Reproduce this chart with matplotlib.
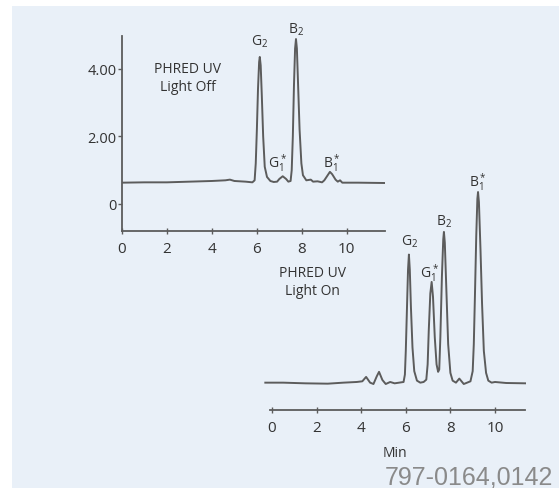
import matplotlib
matplotlib.use('Agg')
import matplotlib.pyplot as plt
from matplotlib.patches import Rectangle

off_t = [0, 1, 2, 3, 4, 4.6, 4.8, 5.0, 5.5, 5.8, 5.9, 5.95, 6.0, 6.05, 6.1, 6.13, 6.17, 6.22, 6.28,
         6.35, 6.45, 6.6, 6.75, 6.9, 7.0, 7.15, 7.3, 7.4, 7.5, 7.55, 7.6, 7.65, 7.7, 7.74, 7.78,
         7.83, 7.9, 7.98, 8.05, 8.2, 8.4, 8.5, 8.7, 8.9, 9.0, 9.15, 9.25, 9.35, 9.5, 9.6, 9.7,
         9.8, 10.5, 11.7]
off_y = [0.63, 0.64, 0.64, 0.66, 0.68, 0.70, 0.72, 0.68, 0.66, 0.64, 0.70, 1.2, 2.2, 3.4, 4.2, 4.35,
         4.1, 3.2, 2.0, 1.1, 0.8, 0.68, 0.65, 0.66, 0.74, 0.82, 0.74, 0.66, 0.68, 1.0, 2.0, 3.5, 4.6,
         4.88, 4.6, 3.6, 2.2, 1.2, 0.85, 0.70, 0.72, 0.66, 0.67, 0.64, 0.70, 0.85, 0.95, 0.88, 0.72,
         0.66, 0.70, 0.63, 0.63, 0.62]

on_t = [-0.3, 0.5, 1.5, 2.5, 3.2, 3.8, 4.05, 4.22, 4.4, 4.55, 4.7, 4.8, 4.95, 5.1, 5.3, 5.5, 5.7,
        5.9, 5.96, 6.0, 6.05, 6.1, 6.14, 6.18, 6.23, 6.3, 6.38, 6.5, 6.65, 6.8, 6.92, 6.98, 7.03,
        7.1, 7.16, 7.22, 7.3, 7.38, 7.45, 7.5, 7.55, 7.62, 7.68, 7.71, 7.75, 7.82, 7.9, 8.0, 8.1,
        8.25, 8.4, 8.5, 8.6, 8.75, 8.9, 9.0, 9.05, 9.1, 9.16, 9.21, 9.24, 9.28, 9.35, 9.42, 9.5,
        9.6, 9.7, 9.85, 10.0, 10.5, 11.4]
on_y = [0.66, 0.66, 0.64, 0.63, 0.66, 0.68, 0.70, 0.83, 0.66, 0.62, 0.85, 0.98, 0.74, 0.62, 0.68,
        0.64, 0.66, 0.68, 0.9, 1.6, 2.8, 4.0, 4.45, 4.0, 2.9, 1.7, 1.0, 0.72, 0.66, 0.68, 0.75, 1.2,
        2.2, 3.3, 3.64, 3.2, 2.0, 1.2, 0.98, 1.05, 2.0, 3.8, 4.9, 5.12, 4.8, 3.4, 1.8, 0.95, 0.72,
        0.66, 0.78, 0.70, 0.62, 0.66, 0.70, 1.0, 1.8, 3.2, 5.0, 6.1, 6.3, 6.0, 4.6, 3.0, 1.6, 0.95,
        0.72, 0.66, 0.68, 0.65, 0.64]

off_peaks = ['G$_2$', 'B$_2$', 'G$_1^*$', 'B$_1^*$']
off_peak_pos = [(6.13, 4.82), (7.74, 5.18), (6.9, 1.24), (9.33, 1.24)]
on_peaks = ['G$_2$', 'G$_1^*$', 'B$_2$', 'B$_1^*$']
on_peak_pos = [(6.19, 4.85), (7.08, 3.93), (7.71, 5.44), (9.24, 6.63)]

W, H = 559, 489
line_col = '#5c5c5c'
txt_col = '#333333'
plt.rcParams['font.family'] = ['Open Sans', 'DejaVu Sans']
plt.rcParams['mathtext.fontset'] = 'custom'
plt.rcParams['mathtext.rm'] = 'Open Sans'
plt.rcParams['mathtext.it'] = 'Open Sans'


def px_box(left, top, right, bottom):
    return [left / W, 1 - bottom / H, (right - left) / W, (bottom - top) / H]


fig = plt.figure(figsize=(W / 100, H / 100), dpi=100)
fig.patch.set_facecolor('white')
fig.patches.append(Rectangle((12 / W, 0), 1, 1 - 7 / H, transform=fig.transFigure,
                             facecolor='#e9f0f8', edgecolor='none', zorder=-10))

# upper panel
ax1 = fig.add_axes(px_box(122, 37, 385, 232))
ax1.patch.set_alpha(0)
ax1.plot(off_t, off_y, color=line_col, lw=1.4)
ax1.set_xlim(0, 11.7)
ax1.set_ylim(-0.8, 4.97)
ax1.set_xticks([0, 2, 4, 6, 8, 10])
ax1.set_yticks([0, 2, 4])
ax1.set_yticklabels(['0', '2.00', '4.00'])
for s in ['top', 'right']:
    ax1.spines[s].set_visible(False)
for s in ['left', 'bottom']:
    ax1.spines[s].set_color(line_col)
    ax1.spines[s].set_linewidth(1.3)
ax1.tick_params(axis='y', direction='out', length=3, width=1, color=line_col,
                labelsize=10.5, labelcolor=txt_col, pad=1)
ax1.tick_params(axis='x', direction='inout', length=5, width=1, color=line_col,
                labelsize=11, labelcolor=txt_col, pad=5)
ax1.text(2.93, 3.75, 'PHRED UV\nLight Off', ha='center', va='center', fontsize=10,
         color=txt_col, linespacing=1.25)
for lab, (x, y) in zip(off_peaks, off_peak_pos):
    ax1.text(x, y, lab, ha='center', va='center', fontsize=10, color=txt_col, clip_on=False)

# lower panel
ax2 = fig.add_axes(px_box(264.2, 180, 526.2, 411))
ax2.patch.set_alpha(0)
ax2.plot(on_t, on_y, color=line_col, lw=1.4)
ax2.set_xlim(-0.35, 11.4)
ax2.set_ylim(-0.149, 0.65 + 204 / 33.8)
ax2.set_xticks([0, 2, 4, 6, 8, 10])
ax2.set_yticks([])
for s in ['top', 'right', 'left']:
    ax2.spines[s].set_visible(False)
ax2.spines['bottom'].set_color(line_col)
ax2.spines['bottom'].set_linewidth(1.3)
ax2.spines['bottom'].set_bounds(-0.1, 11.35)
ax2.tick_params(axis='x', direction='inout', length=5, width=1, color=line_col,
                labelsize=11, labelcolor=txt_col, pad=5)
ax2.set_xlabel('Min', fontsize=10, color=txt_col, labelpad=7)
ax2.text(1.8, 3.65, 'PHRED UV\nLight On', ha='center', va='center', fontsize=10,
         color=txt_col, linespacing=1.25)
for lab, (x, y) in zip(on_peaks, on_peak_pos):
    ax2.text(x, y, lab, ha='center', va='center', fontsize=10, color=txt_col, clip_on=False)

fig.text(553 / W, 1 - 485 / H, '797-0164,0142', ha='right', va='baseline',
         fontsize=18, color='#8a8a8a', family='Liberation Sans')

fig.savefig('out.png', dpi=100)
